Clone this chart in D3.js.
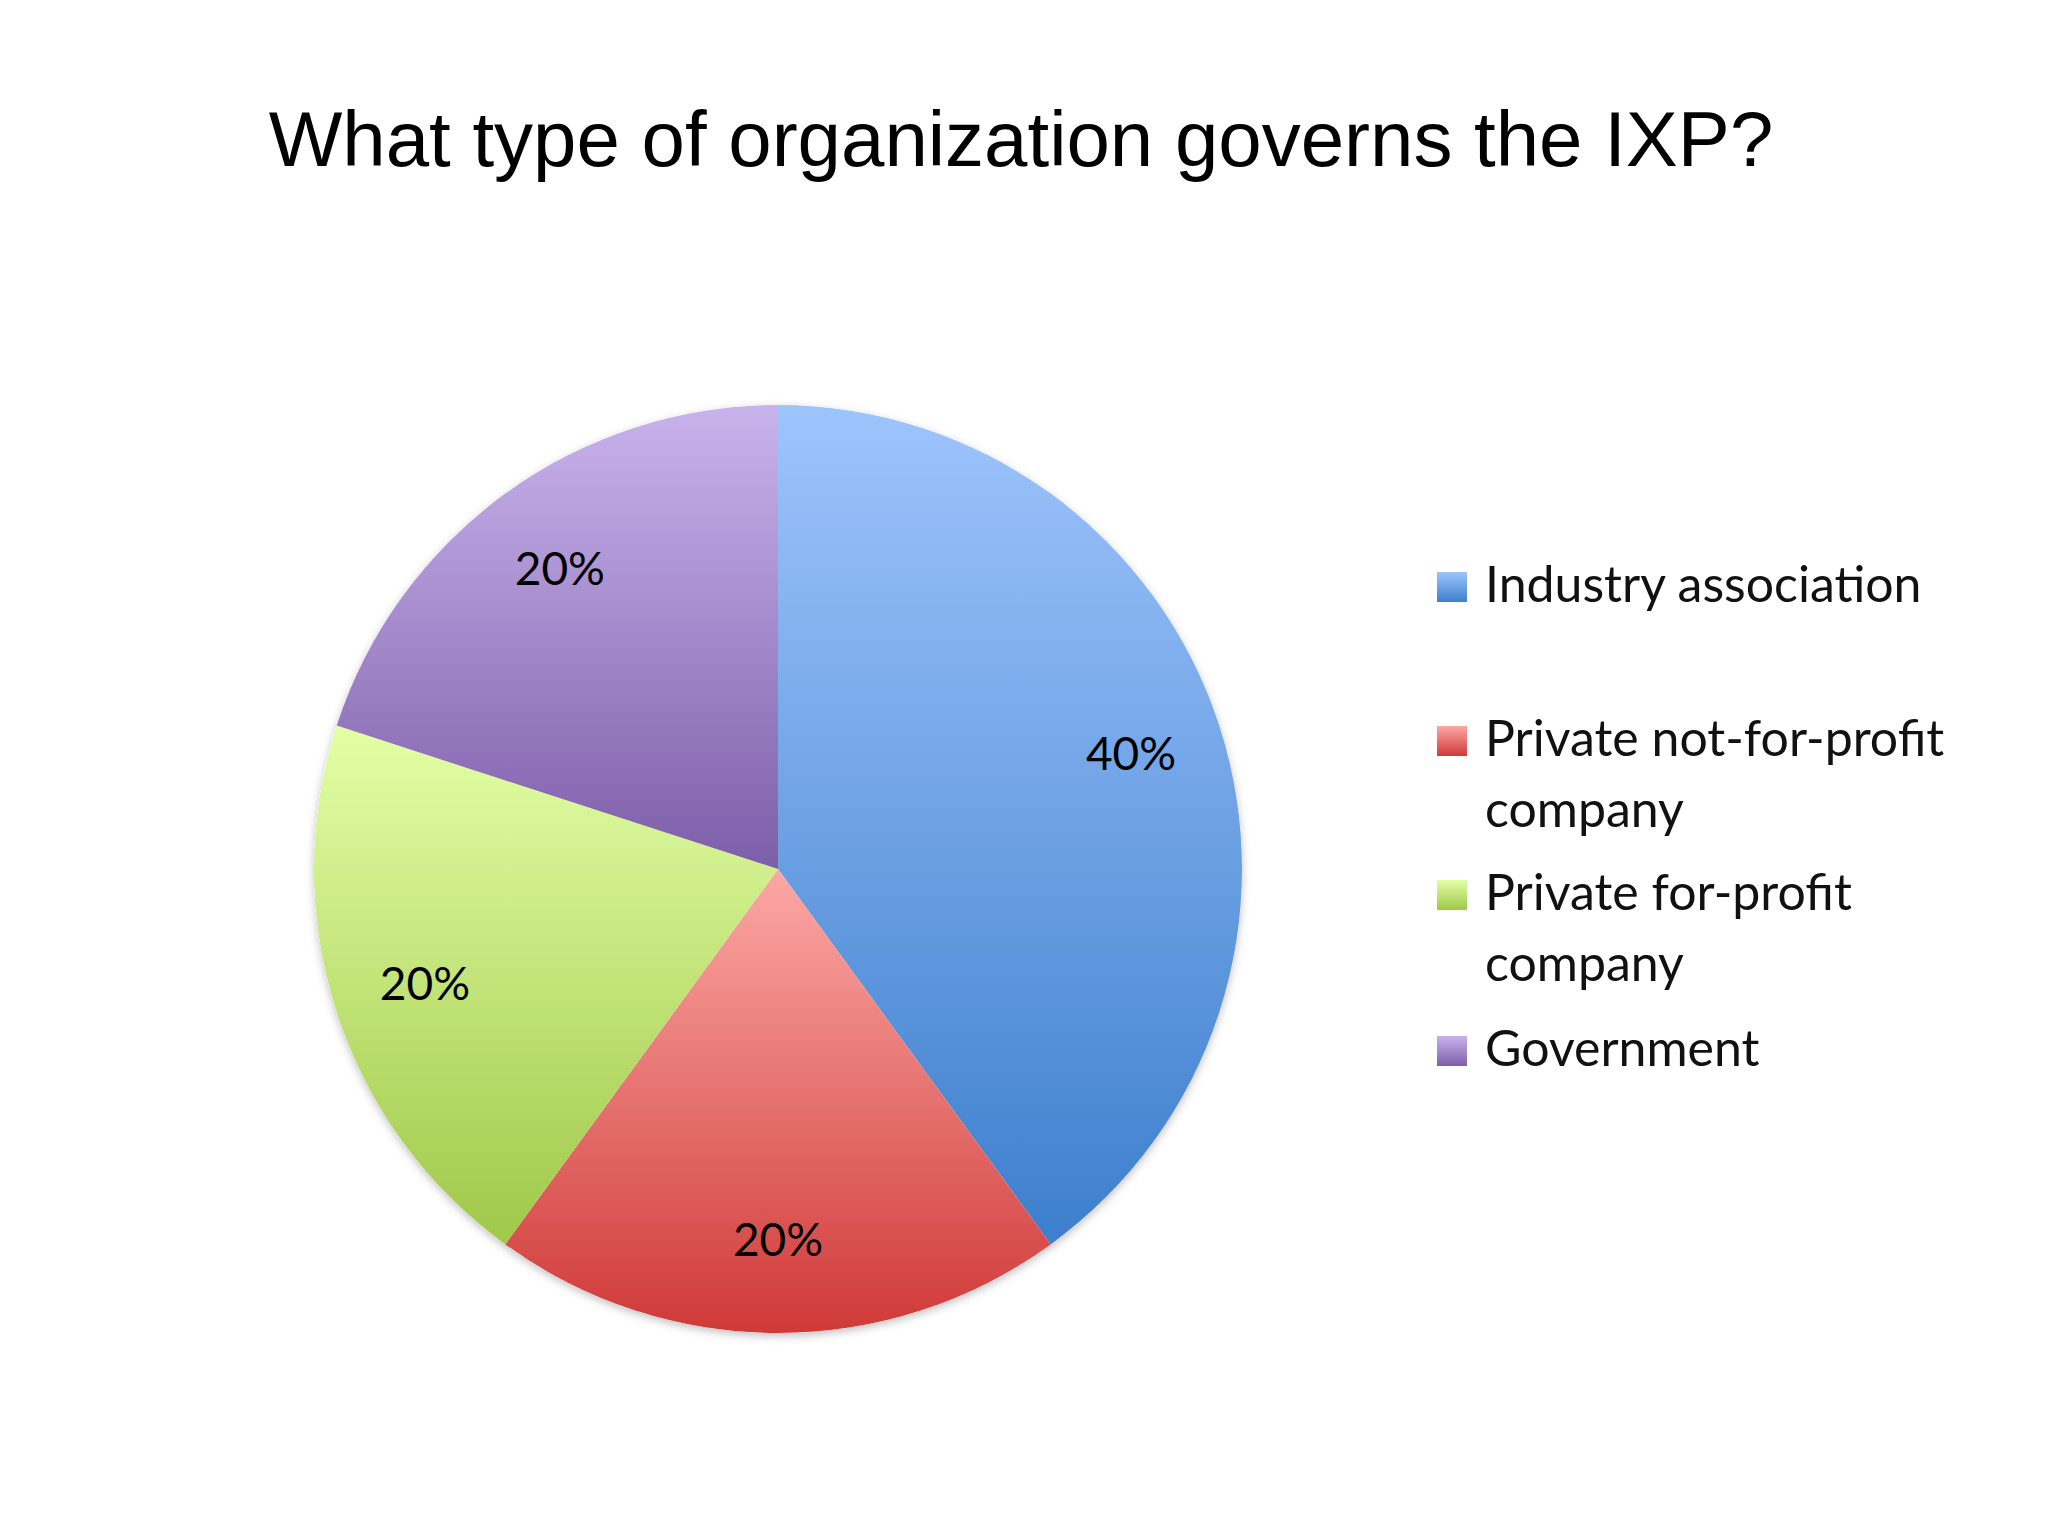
<!DOCTYPE html>
<html><head><meta charset="utf-8">
<script src="https://cdn.jsdelivr.net/npm/d3@7"></script>
<style>body{margin:0;background:#fff}</style>
</head><body>
<script>
const categories = ["Industry association","Private not-for-profit company","Private for-profit company","Government"];
const values = [40,20,20,20];
const legendLines = [["Industry association"],["Private not-for-profit","company"],["Private for-profit","company"],["Government"]];
const colorsTop = ["#9ec4fc","#fca8a5","#e3ffa6","#c9b3ec"];
const colorsBottom = ["#3d7fcd","#cf3a38","#a0c84a","#7d5ea9"];

const W=2048,H=1536;
const svg=d3.select("body").append("svg").attr("width",W).attr("height",H);
svg.append("text").attr("x",1021).attr("y",166).attr("text-anchor","middle")
  .style("font-family","Liberation Sans, Arial").style("font-size","78px").text("What type of organization governs the IXP?");

const defs=svg.append("defs");
categories.forEach((c,i)=>{
  const g=defs.append("linearGradient").attr("id","g"+i).attr("x1",0).attr("y1",0).attr("x2",0).attr("y2",1);
  g.append("stop").attr("offset","0%").attr("stop-color",colorsTop[i]);
  g.append("stop").attr("offset","100%").attr("stop-color",colorsBottom[i]);
});
const f=defs.append("filter").attr("id","sh").attr("x","-10%").attr("y","-10%").attr("width","120%").attr("height","120%");
f.append("feDropShadow").attr("dx",0).attr("dy",3).attr("stdDeviation",4).attr("flood-color","#000").attr("flood-opacity",0.25);

const cx=778,cy=869,R=464;
const pie=d3.pie().sort(null).value(d=>d);
const arc=d3.arc().innerRadius(0).outerRadius(R);
const g=svg.append("g").attr("transform",`translate(${cx},${cy})`);
const arcs=pie(values);
g.append("circle").attr("r",R).attr("fill","#fff").attr("filter","url(#sh)");
g.selectAll("path").data(arcs).join("path").attr("d",arc).attr("fill",(d,i)=>`url(#g${i})`);
const labelArc=d3.arc().innerRadius(R*0.8).outerRadius(R*0.8);
g.selectAll("text.l").data(arcs).join("text").attr("class","l")
  .attr("transform",d=>{const [x,y]=labelArc.centroid(d);return `translate(${x},${y})`;})
  .attr("text-anchor","middle").attr("dy","0.35em")
  .style("font-family","Lato, Carlito, sans-serif").style("font-size","46px")
  .text(d=>d.data+"%");

const ly=[602,756,910,1066];
const lg=svg.append("g");
legendLines.forEach((lines,i)=>{
  lg.append("rect").attr("x",1437).attr("y",ly[i]-30).attr("width",30).attr("height",30).attr("fill",`url(#g${i})`);
  lines.forEach((t,j)=>{
    lg.append("text").attr("x",1485).attr("y",ly[i]+j*71).style("font-family","Lato, Carlito, sans-serif")
      .style("font-size","50px").attr("fill","#111").text(t);
  });
});
</script>
</body></html>
